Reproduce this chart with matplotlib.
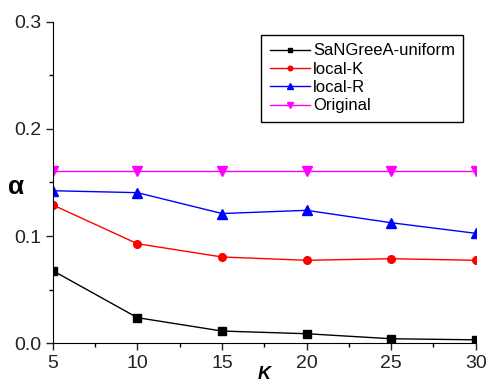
import matplotlib
matplotlib.use("Agg")
import matplotlib.pyplot as plt
from matplotlib.ticker import MultipleLocator, FormatStrFormatter

plt.rcParams["font.family"] = ["Liberation Sans", "DejaVu Sans"]

k_values = [5, 10, 15, 20, 25, 30]
sangreea_uniform = [0.0676, 0.0237, 0.0112, 0.0087, 0.0040, 0.0030]
local_k = [0.129, 0.0928, 0.0804, 0.0773, 0.0788, 0.0773]
local_r = [0.1423, 0.1405, 0.121, 0.124, 0.1124, 0.1025]
original = [0.161, 0.161, 0.161, 0.161, 0.161, 0.161]

fig = plt.figure(figsize=(4.89, 3.85), dpi=100)
ax = fig.add_axes([0.108, 0.109, 0.865, 0.834])

ax.plot(k_values, sangreea_uniform, color="black", marker="s", markersize=5.5, linewidth=1.0, label="SaNGreeA-uniform")
ax.plot(k_values, local_k, color="red", marker="o", markersize=5.5, linewidth=1.0, label="local-K")
ax.plot(k_values, local_r, color="blue", marker="^", markersize=6.5, linewidth=1.0, label="local-R")
ax.plot(k_values, original, color="magenta", marker="v", markersize=6.5, linewidth=1.0, label="Original")

ax.set_xlim(5, 30)
ax.set_ylim(0, 0.3)
ax.xaxis.set_major_locator(MultipleLocator(5))
ax.xaxis.set_minor_locator(MultipleLocator(2.5))
ax.yaxis.set_major_locator(MultipleLocator(0.1))
ax.yaxis.set_minor_locator(MultipleLocator(0.05))
ax.yaxis.set_major_formatter(FormatStrFormatter("%.1f"))
ax.tick_params(which="major", direction="out", length=5, width=1, labelsize=14, colors="#222222")
ax.tick_params(which="minor", direction="out", length=3, width=1)
ax.spines["top"].set_visible(False)
ax.spines["right"].set_visible(False)

ax.set_xlabel("K", fontsize=13, fontstyle="italic", fontweight="bold", labelpad=-4)
fig.text(0.033, 0.515, "α", fontsize=19, fontweight="bold", ha="center", va="center")

leg = ax.legend(loc="upper right", bbox_to_anchor=(0.99, 0.985), fontsize=12,
                fancybox=False, edgecolor="black", framealpha=1,
                handlelength=2.4, handletextpad=0.2, borderpad=0.5,
                labelspacing=0.2, markerscale=0.6)
leg.get_frame().set_linewidth(1.0)

fig.savefig("out.png", dpi=100)
